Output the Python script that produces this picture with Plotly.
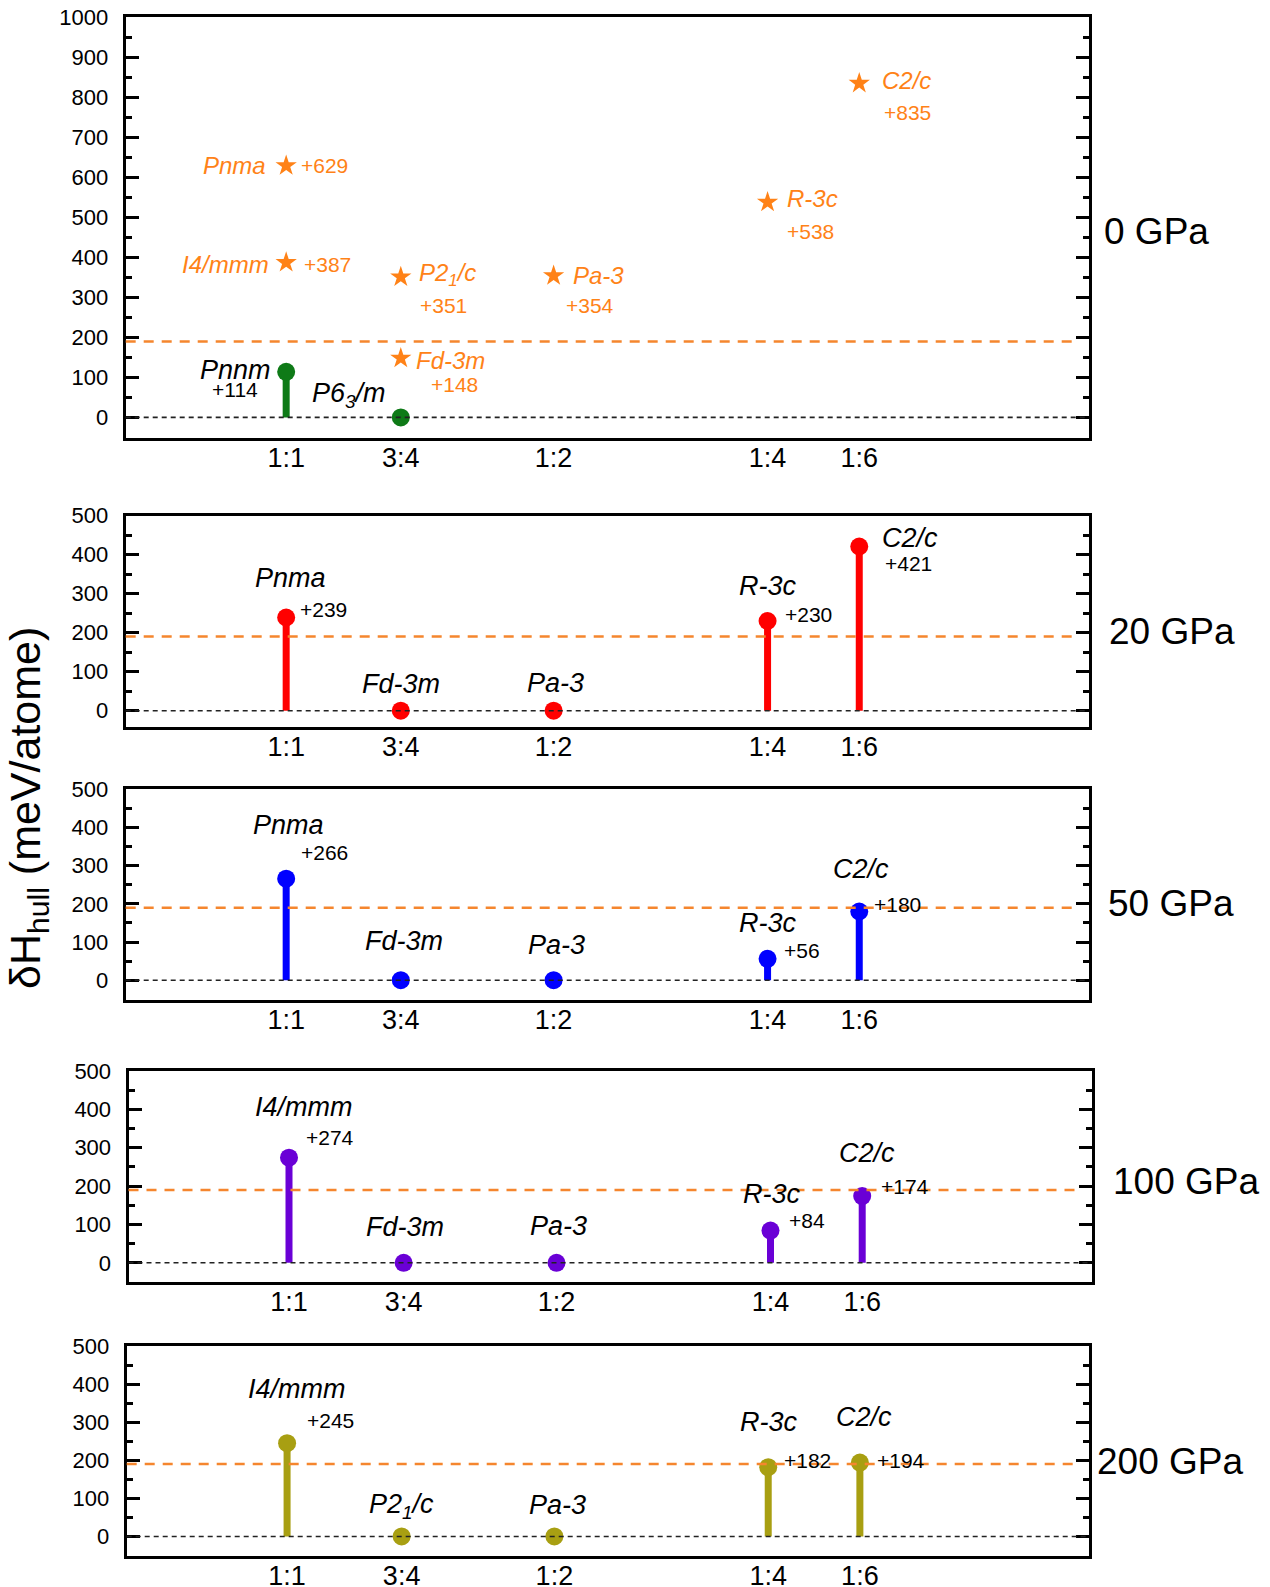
import plotly.graph_objects as go

# ---------------- data ----------------
comp_labels = ["1:1", "3:4", "1:2", "1:4", "1:6"]
comp_x = [1 / 2, 4 / 7, 2 / 3, 4 / 5, 6 / 7]          # fraction of second element

pressure_labels = ["0 GPa", "20 GPa", "50 GPa", "100 GPa", "200 GPa"]

# 0 GPa : stable / near-hull structures (stems) and metastable ones (stars)
p0_stem_idx = [0, 1]
p0_stem_vals = [114, 0]
p0_stem_names = ["Pnnm", "P6<sub>3</sub>/m"]
p0_star_idx = [0, 0, 1, 1, 2, 3, 4]
p0_star_vals = [629, 387, 351, 148, 354, 538, 835]
p0_star_names = ["Pnma", "I4/mmm", "P2<sub>1</sub>/c", "Fd-3m", "Pa-3", "R-3c", "C2/c"]

hp_idx = [0, 1, 2, 3, 4]
p20_vals = [239, 0, 0, 230, 421]
p20_names = ["Pnma", "Fd-3m", "Pa-3", "R-3c", "C2/c"]
p50_vals = [266, 0, 0, 56, 180]
p50_names = ["Pnma", "Fd-3m", "Pa-3", "R-3c", "C2/c"]
p100_vals = [274, 0, 0, 84, 174]
p100_names = ["I4/mmm", "Fd-3m", "Pa-3", "R-3c", "C2/c"]
p200_vals = [245, 0, 0, 182, 194]
p200_names = ["I4/mmm", "P2<sub>1</sub>/c", "Pa-3", "R-3c", "C2/c"]

threshold = 190

# ---------------- style ----------------
W, H = 1270, 1587
FONT = "Liberation Sans, Arial, sans-serif"
GREEN = "#0e7a17"
ORANGE = "#ff8217"
ORANGE_LINE = "#f5862e"
RED = "#ff0000"
BLUE = "#0000ff"
PURPLE = "#6a00d6"
OLIVE = "#a89f12"

# panel geometry in pixels (left, right, top, bottom) and y-range
geom = [
    dict(l=125.7, r=1088.5, t=17.3, b=437.8, yr=[-51, 1000]),
    dict(l=125.7, r=1088.5, t=515.7, b=726.7, yr=[-41, 500]),
    dict(l=125.7, r=1088.5, t=789.3, b=999.5, yr=[-50.5, 500]),
    dict(l=128.5, r=1091.5, t=1071, b=1282, yr=[-50, 500]),
    dict(l=126.7, r=1089, t=1346, b=1555.5, yr=[-50, 500]),
]
right_label_pos = [(1102, 231.7), (1107, 631), (1106, 904), (1111, 1181), (1095, 1461)]

fig = go.Figure()
annotations = []
shapes = []


def axname(k, a):
    return a if k == 0 else f"{a}{k + 1}"


def add_series(k, idx, vals, names, color, symbol, size, stems, name_pos, val_pos,
               name_size, val_size, txt_color):
    xr, yr = axname(k, "x"), axname(k, "y")
    xs = [comp_x[i] for i in idx]
    if stems:
        sx, sy = [], []
        for x, v in zip(xs, vals):
            if v > 0:
                sx += [x, x, None]
                sy += [0, v, None]
        if sx:
            fig.add_trace(go.Scatter(x=sx, y=sy, mode="lines", xaxis=xr, yaxis=yr,
                                     line=dict(color=color, width=7),
                                     hoverinfo="skip", showlegend=False))
    fig.add_trace(go.Scatter(x=xs, y=vals, mode="markers", xaxis=xr, yaxis=yr,
                             marker=dict(color=color, size=size, symbol=symbol,
                                         line=dict(width=0)),
                             showlegend=False))
    for x, v, n, npos, vpos in zip(xs, vals, names, name_pos, val_pos):
        xa, dx, dy = npos
        annotations.append(dict(x=x, y=v, xref=xr, yref=yr, text=f"<i>{n}</i>",
                                showarrow=False, xanchor=xa, yanchor="middle",
                                xshift=dx, yshift=dy,
                                font=dict(family=FONT, size=name_size, color=txt_color)))
        if vpos is not None and v > 0:
            xa, dx, dy = vpos
            annotations.append(dict(x=x, y=v, xref=xr, yref=yr, text=f"+{v}",
                                    showarrow=False, xanchor=xa, yanchor="middle",
                                    xshift=dx, yshift=dy,
                                    font=dict(family=FONT, size=val_size, color=txt_color)))


# label placements (pixel offsets from the point)
p0_stem_npos = [("right", -13, 2), ("right", -13, 22)]
p0_stem_vpos = [("center", -51, -18), None]
p0_star_npos = [("right", -18, 0), ("right", -15, -2), ("left", 16, 2), ("left", 13, -2),
                ("left", 17, 0.5), ("left", 17, 4), ("left", 21, 3)]
p0_star_vpos = [("left", 13, 0), ("left", 15.7, -1.5), ("center", 43, -29), ("center", 54, -26.5),
                ("center", 36, -30), ("center", 43, -29), ("center", 48.5, -29)]

hp_npos = [
    [("center", 4, 39.5), ("center", 0, 27), ("center", 2, 28), ("center", 0, 35), ("left", 21, 8.6)],
    [("center", 2, 54), ("center", 3.5, 39), ("center", 3, 35.5), ("center", 0, 36), ("center", 1.5, 42.5)],
    [("center", 15, 50.6), ("center", 1, 36), ("center", 2, 36.7), ("center", 1.5, 36.5), ("center", 5, 43)],
    [("center", 10, 54), ("center", 0, 30.5), ("center", 3, 31.5), ("center", 1, 45), ("center", 4, 45.5)],
]
hp_vpos = [
    [("left", 12, 7.5), None, None, ("left", 15, 7), ("left", 24, -16.5)],
    [("left", 13, 26), None, None, ("left", 14.5, 8), ("left", 12.5, 6.5)],
    [("left", 14.5, 20.6), None, None, ("left", 16.5, 10.5), ("left", 16.5, 10)],
    [("left", 18, 23), None, None, ("left", 14, 7), ("left", 15.5, 2.5)],
]

# panel 1 (0 GPa)
add_series(0, p0_stem_idx, p0_stem_vals, p0_stem_names, GREEN, "circle", 18, True,
           p0_stem_npos, p0_stem_vpos, 27, 21, "black")
add_series(0, p0_star_idx, p0_star_vals, p0_star_names, ORANGE, "star", 16, False,
           p0_star_npos, p0_star_vpos, 24, 21, ORANGE)

hp_sets = [(p20_vals, p20_names, RED), (p50_vals, p50_names, BLUE),
           (p100_vals, p100_names, PURPLE), (p200_vals, p200_names, OLIVE)]
for j, (vals, names, col) in enumerate(hp_sets):
    add_series(j + 1, hp_idx, vals, names, col, "circle", 18, True,
               hp_npos[j], hp_vpos[j], 27, 21, "black")

layout_axes = {}
for k, g in enumerate(geom):
    xkey = "xaxis" if k == 0 else f"xaxis{k + 1}"
    ykey = "yaxis" if k == 0 else f"yaxis{k + 1}"
    ymax = g["yr"][1]
    layout_axes[xkey] = dict(
        domain=[g["l"] / W, g["r"] / W], anchor=axname(k, "y"), automargin=False,
        range=[0.4, 1.0], tickvals=comp_x, ticktext=comp_labels, ticks="",
        showgrid=False, zeroline=False, showline=True, linecolor="black",
        linewidth=3, mirror=True, ticklabelstandoff=-6,
        tickfont=dict(family=FONT, size=27, color="black"))
    layout_axes[ykey] = dict(
        domain=[1 - g["b"] / H, 1 - g["t"] / H], anchor=axname(k, "x"), automargin=False,
        range=g["yr"], tick0=0, dtick=100, ticks="inside", ticklen=13, tickwidth=2.5,
        tickcolor="black", mirror="ticks", showline=True, linecolor="black", linewidth=3,
        showgrid=False, zeroline=False, ticklabelstandoff=10,
        tickfont=dict(family=FONT, size=22, color="black"),
        minor=dict(tickvals=list(range(50, ymax, 100)), ticks="inside", ticklen=6,
                   tickwidth=2.5, tickcolor="black", showgrid=False))
    # reference lines: hull (0) and metastability threshold
    shapes.append(dict(type="line", xref=f"{axname(k, 'x')} domain", yref=axname(k, "y"),
                       x0=0, x1=1, y0=0, y1=0, layer="above",
                       line=dict(color="#222222", width=1.6, dash="5px,4px")))
    shapes.append(dict(type="line", xref=f"{axname(k, 'x')} domain", yref=axname(k, "y"),
                       x0=0, x1=0.99, y0=threshold, y1=threshold, layer="above",
                       line=dict(color=ORANGE_LINE, width=2.5, dash="10px,8px")))
    px, py = right_label_pos[k]
    annotations.append(dict(x=px / W, y=1 - py / H, xref="paper", yref="paper",
                            text=pressure_labels[k], showarrow=False,
                            xanchor="left", yanchor="middle",
                            font=dict(family=FONT, size=37, color="black")))

annotations.append(dict(x=28 / W, y=1 - 808 / H, xref="paper", yref="paper",
                        text="δH<sub>hull</sub> (meV/atome)", textangle=-90,
                        showarrow=False, xanchor="center", yanchor="middle",
                        font=dict(family=FONT, size=43, color="black")))

fig.update_layout(
    width=W, height=H, autosize=False,
    margin=dict(l=0, r=0, t=0, b=0, autoexpand=False),
    paper_bgcolor="white", plot_bgcolor="white",
    showlegend=False, annotations=annotations, shapes=shapes,
    **layout_axes)

fig.write_html("out.html", config={"displayModeBar": False},
               post_script="document.body.style.margin='0';document.body.style.overflow='hidden';")
